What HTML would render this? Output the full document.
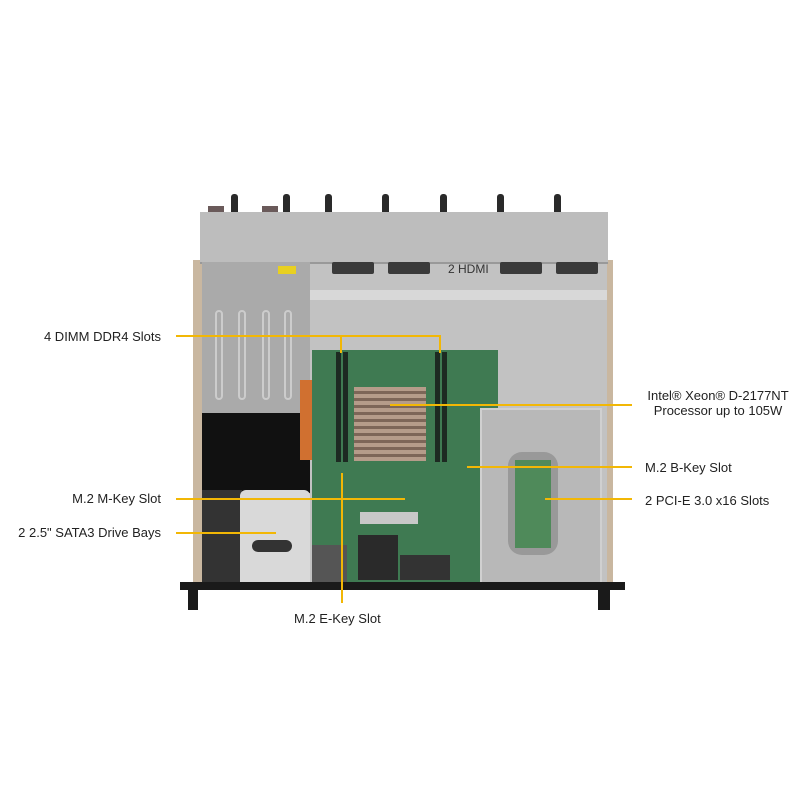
<!DOCTYPE html>
<html><head><meta charset="utf-8"><style>
body{margin:0;width:800px;height:800px;background:#fff;position:relative;overflow:hidden;font-family:"Liberation Sans",sans-serif}
div{position:absolute;box-sizing:border-box}
.t{font-size:13px;color:#222;white-space:nowrap;line-height:15px}
.r{width:161px;left:0;text-align:right}
.h{height:2px;background:#f2b705}
.v{width:2px;background:#f2b705}
.post{width:7px;height:24px;background:#2a2a2a;border-radius:3px 3px 0 0;top:194px}
.fan{top:262px;height:12px;width:42px;background:#3a3a3a;border-radius:2px}
.dimm{width:5px;background:#1d2a22;top:352px;height:110px}
</style></head><body>
<div class="post" style="left:231px"></div><div class="post" style="left:283px"></div>
<div class="post" style="left:325px"></div><div class="post" style="left:382px"></div>
<div class="post" style="left:440px"></div><div class="post" style="left:497px"></div>
<div class="post" style="left:554px"></div>
<div style="left:208px;top:206px;width:16px;height:10px;background:#6a5a5a"></div>
<div style="left:262px;top:206px;width:16px;height:10px;background:#6a5a5a"></div>
<div style="left:193px;top:260px;width:420px;height:328px;background:#c9b7a0"></div>
<div style="left:200px;top:212px;width:408px;height:52px;background:#bdbdbd;border-bottom:2px solid #999"></div>
<div style="left:310px;top:264px;width:297px;height:320px;background:#c2c2c2"></div>
<div style="left:310px;top:290px;width:297px;height:10px;background:#d8d8d8"></div>
<div class="fan" style="left:332px"></div><div class="fan" style="left:388px"></div>
<div class="fan" style="left:500px"></div><div class="fan" style="left:556px"></div>
<div class="t" style="left:448px;top:262px;font-size:12px;color:#333">2 HDMI</div>
<div style="left:202px;top:262px;width:108px;height:151px;background:#aaaaaa"></div>
<div style="left:215px;top:310px;width:8px;height:90px;border:2px solid #ccc;border-radius:4px"></div>
<div style="left:238px;top:310px;width:8px;height:90px;border:2px solid #ccc;border-radius:4px"></div>
<div style="left:262px;top:310px;width:8px;height:90px;border:2px solid #ccc;border-radius:4px"></div>
<div style="left:284px;top:310px;width:8px;height:90px;border:2px solid #ccc;border-radius:4px"></div>
<div style="left:278px;top:266px;width:18px;height:8px;background:#e8d020"></div>
<div style="left:202px;top:413px;width:108px;height:80px;background:#111"></div>
<div style="left:202px;top:490px;width:40px;height:93px;background:#333"></div>
<div style="left:240px;top:490px;width:70px;height:92px;background:#d9d9d9;border-radius:6px 6px 0 0"></div>
<div style="left:252px;top:540px;width:40px;height:12px;background:#333;border-radius:6px"></div>
<div style="left:300px;top:380px;width:14px;height:80px;background:#d07030"></div>
<div style="left:312px;top:350px;width:186px;height:232px;background:#3f7a52"></div>
<div class="dimm" style="left:336px"></div><div class="dimm" style="left:343px"></div>
<div class="dimm" style="left:435px"></div><div class="dimm" style="left:442px"></div>
<div style="left:354px;top:387px;width:72px;height:74px;background:#a08878;background-image:repeating-linear-gradient(0deg,#b59c8a 0 4px,#7d6658 4px 7px)"></div>
<div style="left:360px;top:512px;width:58px;height:12px;background:#c8c8c8"></div>
<div style="left:358px;top:535px;width:40px;height:45px;background:#2a2a2a"></div>
<div style="left:400px;top:555px;width:50px;height:25px;background:#333"></div>
<div style="left:312px;top:545px;width:35px;height:38px;background:#555"></div>
<div style="left:480px;top:408px;width:122px;height:176px;background:#b8b8b8;border:2px solid #d0d0d0"></div>
<div style="left:508px;top:452px;width:50px;height:103px;background:#999;border-radius:14px"></div>
<div style="left:515px;top:460px;width:36px;height:88px;background:#4f8a5a"></div>
<div style="left:180px;top:582px;width:445px;height:8px;background:#1a1a1a"></div>
<div style="left:188px;top:588px;width:10px;height:22px;background:#1a1a1a"></div>
<div style="left:598px;top:588px;width:12px;height:22px;background:#1a1a1a"></div>
<div class="t r" style="top:329px">4 DIMM DDR4 Slots</div>
<div class="h" style="left:176px;top:335px;width:265px"></div>
<div class="v" style="left:340px;top:335px;height:18px"></div>
<div class="v" style="left:439px;top:335px;height:18px"></div>
<div class="t" style="left:643px;top:388px;width:150px;text-align:center">Intel® Xeon® D-2177NT<br>Processor up to 105W</div>
<div class="h" style="left:390px;top:404px;width:242px"></div>
<div class="t" style="left:645px;top:460px">M.2 B-Key Slot</div>
<div class="h" style="left:467px;top:466px;width:165px"></div>
<div class="t" style="left:645px;top:493px">2 PCI-E 3.0 x16 Slots</div>
<div class="h" style="left:545px;top:498px;width:87px"></div>
<div class="t r" style="top:491px">M.2 M-Key Slot</div>
<div class="h" style="left:176px;top:498px;width:229px"></div>
<div class="t r" style="top:525px">2 2.5" SATA3 Drive Bays</div>
<div class="h" style="left:176px;top:532px;width:100px"></div>
<div class="v" style="left:341px;top:473px;height:130px"></div>
<div class="t" style="left:294px;top:611px">M.2 E-Key Slot</div>
</body></html>
